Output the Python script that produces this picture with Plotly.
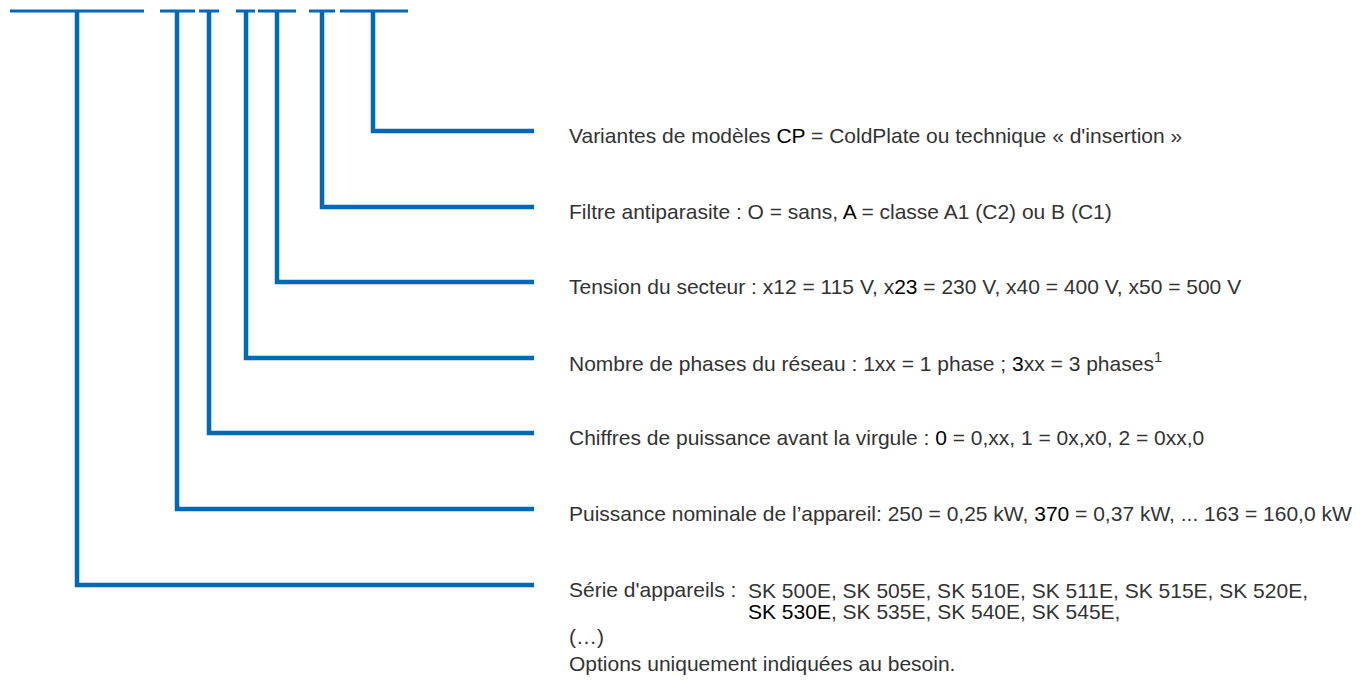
import plotly.graph_objects as go

# ---- data ----
slot_x0 = [10, 160, 199, 236, 258, 309, 340]
slot_x1 = [144, 195, 219, 255, 296, 335, 408]
slot_y = 11

branch_x = [373, 322, 277, 246, 209, 177, 77]
branch_y = [131, 207, 282, 358, 433, 509, 585]
branch_end_x = 534

B = "<span style='color:#000000'>{}</span>"
labels = [
    "Variantes de modèles " + B.format("CP") + " = ColdPlate ou technique « d'insertion »",
    "Filtre antiparasite : O = sans, " + B.format("A") + " = classe A1 (C2) ou B (C1)",
    "Tension du secteur : x12 = 115 V, x" + B.format("23") + " = 230 V, x40 = 400 V, x50 = 500 V",
    "Nombre de phases du réseau : 1xx = 1 phase ; " + B.format("3") + "xx = 3 phases<sup>1</sup>",
    "Chiffres de puissance avant la virgule : " + B.format("0") + " = 0,xx, 1 = 0x,x0, 2 = 0xx,0",
    "Puissance nominale de l’appareil: 250 = 0,25 kW, " + B.format("370") + " = 0,37 kW, ... 163 = 160,0 kW",
    "Série d'appareils :",
]
series_line1 = "SK 500E, SK 505E, SK 510E, SK 511E, SK 515E, SK 520E,"
series_line2 = B.format("SK 530E") + ", SK 535E, SK 540E, SK 545E,"
extra_lines = ["(…)", "Options uniquement indiquées au besoin."]

LINE = "#0068b4"
TXT = "#333333"
FONT = "Liberation Sans, Arial, sans-serif"
FS = 21

fig = go.Figure()

# top slot bars
sx, sy = [], []
for a, b in zip(slot_x0, slot_x1):
    sx += [a, b, None]
    sy += [slot_y, slot_y, None]
fig.add_trace(go.Scatter(x=sx, y=sy, mode="lines", line=dict(color=LINE, width=3),
                         hoverinfo="skip", showlegend=False))

# branch lines
for bx, by in zip(branch_x, branch_y):
    fig.add_trace(go.Scatter(x=[bx, bx, branch_end_x], y=[slot_y, by, by], mode="lines",
                             line=dict(color=LINE, width=4.5),
                             hoverinfo="skip", showlegend=False))

TX = 567
DY = 4
for by, lab in zip(branch_y, labels):
    fig.add_annotation(x=TX, y=by + DY, text=lab, showarrow=False, xanchor="left",
                       yanchor="middle", font=dict(family=FONT, size=FS, color=TXT))

SX = 746
fig.add_annotation(x=SX, y=branch_y[-1] + 5, text=series_line1, showarrow=False, xanchor="left",
                   yanchor="middle", font=dict(family=FONT, size=FS, color=TXT))
fig.add_annotation(x=SX, y=branch_y[-1] + 26, text=series_line2, showarrow=False, xanchor="left",
                   yanchor="middle", font=dict(family=FONT, size=FS, color=TXT))
for i, t in enumerate(extra_lines):
    fig.add_annotation(x=TX, y=branch_y[-1] + 51 + 27 * i, text=t, showarrow=False, xanchor="left",
                       yanchor="middle", font=dict(family=FONT, size=FS, color=TXT))

# page body has an 8px margin: shift the ranges so coordinates match page pixels
OFF = 8
fig.update_layout(
    width=1367, height=695,
    margin=dict(l=0, r=0, t=0, b=0),
    paper_bgcolor="white", plot_bgcolor="white",
    xaxis=dict(range=[OFF, 1367 + OFF], visible=False, fixedrange=True),
    yaxis=dict(range=[695 + OFF, OFF], visible=False, fixedrange=True),
)
fig.write_html("out.html")
